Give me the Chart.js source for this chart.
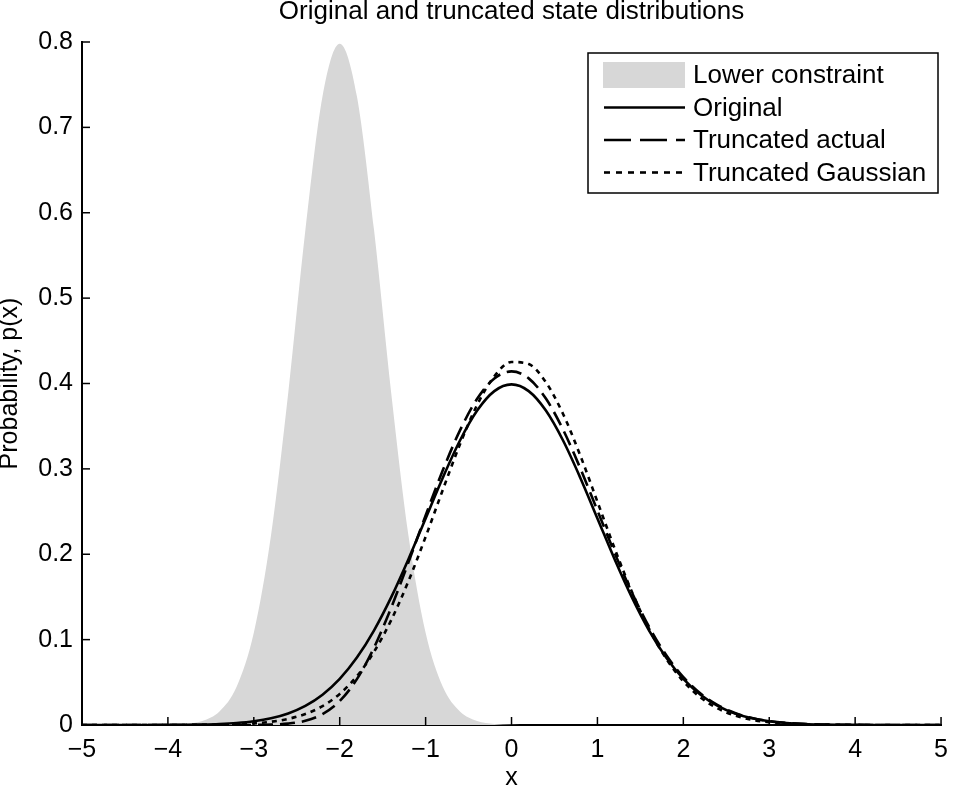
<!DOCTYPE html>
<html>
<head>
<meta charset="utf-8">
<title>Original and truncated state distributions</title>
<script src="https://cdn.jsdelivr.net/npm/chart.js@4.4.1/dist/chart.umd.min.js"></script>
<style>
  html, body { margin: 0; padding: 0; background: #fff; }
  #wrap { width: 958px; height: 791px; }
</style>
</head>
<body>
<div id="wrap"><canvas id="pdfChart" width="958" height="791"></canvas></div>
<script>
// x positions the curves were read at
var xs = [-5, -4.8, -4.6, -4.4, -4.2, -4, -3.8, -3.6, -3.4, -3.2,
  -3, -2.8, -2.6, -2.4, -2.2, -2, -1.8, -1.6, -1.4, -1.2,
  -1, -0.8, -0.6, -0.4, -0.2, 0, 0.2, 0.4, 0.6, 0.8,
  1, 1.2, 1.4, 1.6, 1.8, 2, 2.2, 2.4, 2.6, 2.8,
  3, 3.2, 3.4, 3.6, 3.8, 4, 4.2, 4.4, 4.6, 4.8, 5];

var lowerConstraint = [0, 0, 0, 0.00001, 0.00005, 0.00027, 0.00122, 0.00477, 0.01583, 0.04479,
  0.10798, 0.22184, 0.38837, 0.57938, 0.73654, 0.79788, 0.73654, 0.57938, 0.38837, 0.22184,
  0.10798, 0.04479, 0.01583, 0.00477, 0.00122, 0.00027, 0.00005, 0.00001, 0, 0,
  0, 0, 0, 0, 0, 0, 0, 0, 0, 0,
  0, 0, 0, 0, 0, 0, 0, 0, 0, 0, 0];

var original = [0.000001, 0.000004, 0.00001, 0.000025, 0.000059, 0.000134, 0.00029, 0.00061, 0.00123, 0.00238,
  0.00443, 0.00792, 0.01358, 0.02239, 0.03547, 0.05399, 0.07895, 0.11092, 0.14973, 0.19419,
  0.24197, 0.28969, 0.33322, 0.36827, 0.39104, 0.39894, 0.39104, 0.36827, 0.33322, 0.28969,
  0.24197, 0.19419, 0.14973, 0.11092, 0.07895, 0.05399, 0.03547, 0.02239, 0.01358, 0.00792,
  0.00443, 0.00238, 0.00123, 0.00061, 0.00029, 0.000134, 0.000059, 0.000025, 0.00001, 0.000004, 0.000001];

var truncatedActual = [0, 0, 0, 0, 0, 0, 0, 0, 0.000003, 0.00002,
  0.0001, 0.00045, 0.00162, 0.00493, 0.01269, 0.02803, 0.05372, 0.09076, 0.13756, 0.19056,
  0.2455, 0.29829, 0.34507, 0.38208, 0.40592, 0.41417, 0.40598, 0.38234, 0.34595, 0.30076,
  0.25122, 0.20161, 0.15545, 0.11516, 0.08197, 0.05605, 0.03683, 0.02325, 0.0141, 0.00822,
  0.0046, 0.00247, 0.00128, 0.00063, 0.0003, 0.00014, 0.00006, 0.00003, 0.00001, 0, 0];

var truncatedGaussian = [0, 0, 0, 0.000005, 0.00001, 0.00003, 0.00008, 0.00019, 0.00043, 0.00093,
  0.00192, 0.00379, 0.00714, 0.01287, 0.02215, 0.03642, 0.0572, 0.08584, 0.12303, 0.16848,
  0.22039, 0.27543, 0.3288, 0.37498, 0.40853, 0.42519, 0.42274, 0.40153, 0.36433, 0.3158,
  0.26151, 0.20686, 0.15632, 0.11285, 0.07782, 0.05129, 0.03228, 0.0194, 0.01114, 0.00611,
  0.00321, 0.00161, 0.00077, 0.00035, 0.00015, 0.00006, 0.00003, 0.00001, 0, 0, 0];

var seriesNames = ['Lower constraint', 'Original', 'Truncated actual', 'Truncated Gaussian'];
var xTicks = [-5, -4, -3, -2, -1, 0, 1, 2, 3, 4, 5];
var yTicks = ['0', '0.1', '0.2', '0.3', '0.4', '0.5', '0.6', '0.7', '0.8'];

var FONT = '"Liberation Sans", Arial, Helvetica, sans-serif';

function toPoints(ys) {
  var pts = [];
  for (var i = 0; i < xs.length; i++) {
    pts.push({ x: xs[i], y: ys[i] });
  }
  return pts;
}

// matlab style: ticks pointing in, legend box in the corner, title over the axes
var matlabExtras = {
  id: 'matlabExtras',
  afterDraw: function (chart) {
    var ctx = chart.ctx;
    var area = chart.chartArea;
    var sx = chart.scales.x;
    var sy = chart.scales.y;
    ctx.save();

    ctx.strokeStyle = '#000';
    ctx.lineWidth = 1.5;
    ctx.setLineDash([]);
    sx.ticks.forEach(function (t) {
      var px = sx.getPixelForValue(t.value);
      ctx.beginPath();
      ctx.moveTo(px, area.bottom);
      ctx.lineTo(px, area.bottom - 8);
      ctx.stroke();
    });
    sy.ticks.forEach(function (t) {
      var py = sy.getPixelForValue(t.value);
      ctx.beginPath();
      ctx.moveTo(area.left, py);
      ctx.lineTo(area.left + 8, py);
      ctx.stroke();
    });

    // title
    ctx.fillStyle = '#000';
    ctx.font = '26px ' + FONT;
    ctx.textAlign = 'center';
    ctx.textBaseline = 'middle';
    ctx.fillText('Original and truncated state distributions', (area.left + area.right) / 2, 12);

    // legend
    var bx = 588, by = 53, bw = 350, bh = 140;
    ctx.fillStyle = '#fff';
    ctx.fillRect(bx, by, bw, bh);
    ctx.lineWidth = 1.5;
    ctx.strokeStyle = '#000';
    ctx.strokeRect(bx, by, bw, bh);

    ctx.font = '26px ' + FONT;
    ctx.textAlign = 'left';
    chart.data.datasets.forEach(function (ds, i) {
      var rowY = 75 + i * 32.5;
      if (ds.fill) {
        ctx.fillStyle = ds.backgroundColor;
        ctx.fillRect(603, rowY - 13, 82, 26);
      } else {
        ctx.strokeStyle = ds.borderColor;
        ctx.lineWidth = ds.borderWidth;
        ctx.setLineDash(ds.legendDash || []);
        ctx.beginPath();
        ctx.moveTo(604, rowY);
        ctx.lineTo(685, rowY);
        ctx.stroke();
        ctx.setLineDash([]);
      }
      ctx.fillStyle = '#000';
      ctx.fillText(ds.label, 693, rowY + 1);
    });
    ctx.restore();
  }
};

var ctx = document.getElementById('pdfChart').getContext('2d');

var pdfChart = new Chart(ctx, {
  type: 'line',
  data: {
    datasets: [{
      label: seriesNames[0],
      data: toPoints(lowerConstraint),
      fill: 'origin',
      backgroundColor: '#d7d7d7',
      borderColor: 'rgba(0,0,0,0)',
      borderWidth: 0,
      pointRadius: 0,
      cubicInterpolationMode: 'monotone',
      order: 1
    }, {
      label: seriesNames[1],
      data: toPoints(original),
      fill: false,
      borderColor: '#000',
      borderWidth: 2.6,
      pointRadius: 0,
      cubicInterpolationMode: 'monotone',
      order: 0
    }, {
      label: seriesNames[2],
      data: toPoints(truncatedActual),
      fill: false,
      borderColor: '#000',
      borderWidth: 2.6,
      borderDash: [15, 7],
      legendDash: [27, 9],
      pointRadius: 0,
      cubicInterpolationMode: 'monotone',
      order: 0
    }, {
      label: seriesNames[3],
      data: toPoints(truncatedGaussian),
      fill: false,
      borderColor: '#000',
      borderWidth: 2.6,
      borderDash: [5, 5],
      legendDash: [6, 6],
      pointRadius: 0,
      cubicInterpolationMode: 'monotone',
      order: 0
    }]
  },
  options: {
    responsive: false,
    animation: false,
    layout: { padding: { top: 42, right: 7, left: 0, bottom: 0 } },
    plugins: {
      legend: { display: false },
      tooltip: { enabled: false },
      title: { display: false }
    },
    scales: {
      x: {
        type: 'linear',
        min: -5,
        max: 5,
        afterBuildTicks: function (scale) {
          scale.ticks = xTicks.map(function (v) { return { value: v }; });
        },
        ticks: {
          color: '#000',
          padding: 10,
          maxRotation: 0,
          autoSkip: false,
          font: { family: FONT, size: 25 },
          callback: function (value) {
            return value < 0 ? '\u2212' + Math.abs(value) : String(value);
          }
        },
        grid: { display: false, drawTicks: false },
        border: { display: true, color: '#000', width: 2 },
        title: {
          display: true,
          text: 'x',
          color: '#000',
          font: { family: FONT, size: 25, lineHeight: 1 },
          padding: { top: 0, bottom: 0 }
        },
        afterFit: function (scale) { scale.height = 66; }
      },
      y: {
        type: 'linear',
        min: 0,
        max: 0.8,
        afterBuildTicks: function (scale) {
          scale.ticks = yTicks.map(function (v) { return { value: parseFloat(v) }; });
        },
        ticks: {
          color: '#000',
          padding: 9,
          autoSkip: false,
          font: { family: FONT, size: 25 },
          callback: function (value, index) {
            return yTicks[index];
          }
        },
        grid: { display: false, drawTicks: false },
        border: { display: true, color: '#000', width: 2 },
        title: {
          display: true,
          text: 'Probability, p(x)',
          color: '#000',
          font: { family: FONT, size: 25, lineHeight: 1 },
          padding: { top: -2, bottom: 0 }
        },
        afterFit: function (scale) { scale.width = 82; }
      }
    }
  },
  plugins: [matlabExtras]
});
</script>
</body>
</html>
